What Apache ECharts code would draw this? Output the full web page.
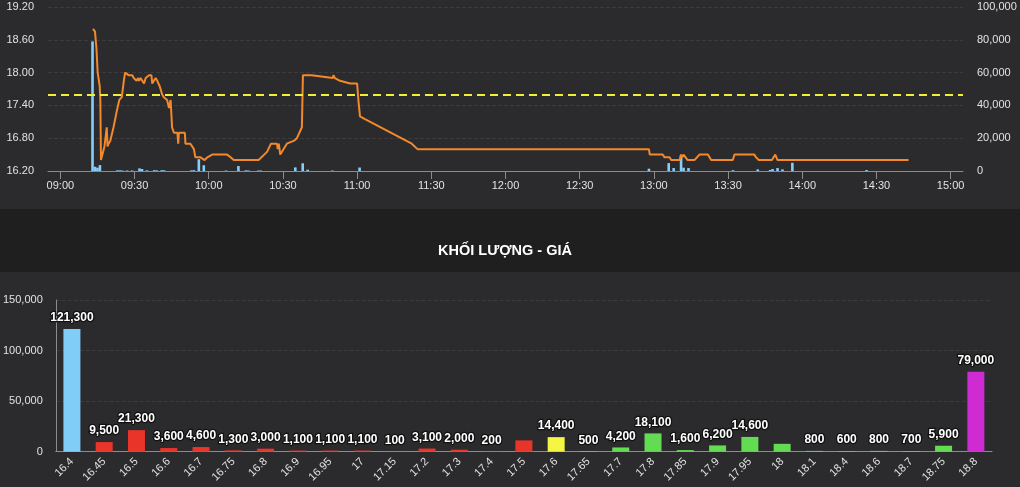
<!DOCTYPE html>
<html>
<head>
<meta charset="utf-8">
<script src="https://cdn.jsdelivr.net/npm/echarts@6/dist/echarts.min.js"></script>
<style>
html,body{margin:0;padding:0;background:#2b2b2d;}
#c{width:1020px;height:487px;}
</style>
</head>
<body>
<div id="c"></div>
<script>
// ---------- DATA ----------
const refPrice = 17.6;
const floorPrice = 16.4;
const ceilPrice = 18.8;

const timeTicks = ['09:00','09:30','10:00','10:30','11:00','11:30','12:00','12:30','13:00','13:30','14:00','14:30','15:00'];
const timeRange = ['08:55','15:05'];

const priceTimes = ['09:13:12','09:14:00','09:14:35','09:15:05','09:15:35','09:15:55','09:16:10','09:16:25','09:17:00','09:17:50',
 '09:18:45','09:19:05','09:19:30','09:20:10','09:20:50','09:21:30','09:22:50','09:23:50','09:24:50','09:25:40',
 '09:26:10','09:26:25','09:27:40','09:29:05','09:29:40','09:30:25','09:30:50','09:31:25','09:31:50','09:32:25',
 '09:33:05','09:33:50','09:34:30','09:35:05','09:35:50','09:36:50','09:37:10','09:37:50','09:38:30','09:39:10',
 '09:40:10','09:41:10','09:41:50','09:43:10','09:43:55','09:44:35','09:45:10','09:45:55','09:47:20','09:47:40',
 '09:47:55','09:50:20','09:50:35','09:52:35','09:54:00','09:54:35','09:55:35','09:56:40','09:57:20','09:58:20',
 '09:59:25','10:01:25','10:07:25','10:08:50','10:10:05','10:20:10','10:23:35','10:25:10','10:27:35','10:27:55',
 '10:28:20','10:28:55','10:31:35','10:34:20','10:35:40','10:36:20','10:37:40','10:38:05','10:41:40','10:50:10',
 '10:50:25','10:51:00','10:53:05','10:57:10','11:00:00','11:00:30','11:01:10','11:03:10','11:22:05','11:24:25',
 '12:58:00','12:58:20','13:03:35','13:04:20','13:06:20','13:07:00','13:10:25','13:11:00','13:11:30','13:12:00',
 '13:13:40','13:16:25','13:18:25','13:21:50','13:23:10','13:31:55','13:32:35','13:40:35','13:41:20','13:42:25',
 '13:47:45','13:49:05','13:50:00','14:43:00'];
const priceValues = [18.80,18.75,18.45,18.00,18.00,17.75,17.50,16.40,16.50,16.65,
 17.00,16.65,16.70,16.75,16.75,17.00,17.30,17.50,17.55,17.85,
 18.00,18.00,17.95,17.95,17.90,17.90,17.85,17.90,17.85,17.90,
 17.90,17.80,17.90,17.90,17.95,17.95,17.80,17.85,17.90,17.85,
 17.75,17.60,17.55,17.50,17.35,17.50,17.00,16.90,16.90,16.70,
 16.90,16.90,16.70,16.70,16.60,16.45,16.45,16.45,16.45,16.40,
 16.45,16.50,16.50,16.45,16.40,16.40,16.55,16.70,16.70,16.60,
 16.70,16.50,16.70,16.75,16.80,16.80,17.00,17.95,17.95,17.90,
 17.95,17.90,17.85,17.80,17.80,17.50,17.20,17.15,16.70,16.60,
 16.60,16.50,16.50,16.45,16.45,16.40,16.40,16.50,16.45,16.50,
 16.40,16.40,16.50,16.50,16.40,16.40,16.50,16.50,16.45,16.40,
 16.40,16.50,16.40,16.40];

const volumeTimes = ['09:13','09:14','09:15','09:16','09:23','09:24','09:25','09:27','09:29','09:32',
 '09:33','09:35','09:38','09:39','09:41','09:42','09:53','09:54','09:56','09:58',
 '10:07','10:12','10:15','10:16','10:20','10:21','10:35','10:38','10:40','10:50',
 '11:01','12:58','13:06','13:08','13:11','13:12','13:14','13:32','13:42','13:47',
 '13:48','13:50','13:52','13:56','14:26'];
const volumeValues = [79000,2600,2000,3600,400,400,300,300,300,1600,
 1200,400,500,400,500,400,400,500,7200,3500,
 300,3000,400,300,300,300,2200,4700,800,300,
 2100,1400,4800,1800,9500,2000,1800,500,1000,600,
 1200,1800,1000,5000,600];

const priceLevels = ['16.4','16.45','16.5','16.6','16.7','16.75','16.8','16.9','16.95','17','17.15','17.2','17.3','17.4','17.5',
 '17.6','17.65','17.7','17.8','17.85','17.9','17.95','18','18.1','18.4','18.6','18.7','18.75','18.8'];
const levelVolumes = [121300,9500,21300,3600,4600,1300,3000,1100,1100,1100,100,3100,2000,200,11200,
 14400,500,4200,18100,1600,6200,14600,7800,800,600,800,700,5900,79000];
const unlabeledLevels = ['17.5','18'];

// ---------- HELPERS ----------
// clock string "HH:MM[:SS]" -> minutes since midnight (axis unit)
const toMin = s => { const p = s.split(':').map(Number); return p[0] * 60 + p[1] + (p[2] || 0) / 60; };
const pad = n => (n < 10 ? '0' : '') + n;
const fmtClock = v => { const m = Math.round(v); return pad(Math.floor(m / 60)) + ':' + pad(m % 60); };
const fmtNum = v => Number(v).toLocaleString('en-US');
function levelColor(p) {
  const v = parseFloat(p);
  if (v === floorPrice) return '#80cdf8';
  if (v === ceilPrice) return '#cf2bd3';
  if (v === refPrice) return '#f5f543';
  return v < refPrice ? '#e9342a' : '#63dc53';
}

const FONT = '"Liberation Sans", Arial, sans-serif';
const LABEL = '#e2e2e2';
const AXIS = '#8c8c8c';
const SPLIT = '#3b3b3e';
const tickMins = timeTicks.map(toMin);

const chart = echarts.init(document.getElementById('c'));
chart.setOption({
  backgroundColor: '#2b2b2d',
  animation: false,
  textStyle: { fontFamily: FONT },
  graphic: [{
    type: 'rect', silent: true, z: 0,
    shape: { x: 0, y: 209, width: 1020, height: 63 },
    style: { fill: '#1f1f20' }
  }],
  title: {
    text: 'KHỐI LƯỢNG - GIÁ', left: 438, top: 243, padding: 0,
    textStyle: { color: '#ffffff', fontSize: 14.5, fontWeight: 'bold', fontFamily: FONT }
  },
  grid: [
    { left: 48, right: 57, top: 7, height: 164 },
    { left: 55, right: 28, top: 300, height: 151.7 }
  ],
  xAxis: [{
    type: 'value', gridIndex: 0,
    min: toMin(timeRange[0]), max: toMin(timeRange[1]),
    axisLine: { onZero: false, lineStyle: { color: AXIS, width: 1 } },
    axisTick: { show: true, length: 8, lineStyle: { color: AXIS }, customValues: tickMins },
    axisLabel: { color: LABEL, fontSize: 11, margin: 9, customValues: tickMins, formatter: fmtClock },
    splitLine: { show: false }
  }, {
    type: 'category', gridIndex: 1, data: priceLevels,
    axisLine: { lineStyle: { color: AXIS } },
    axisTick: { length: 8, lineStyle: { color: AXIS } },
    axisLabel: { color: LABEL, fontSize: 11, rotate: 45, interval: 0, margin: 8 }
  }],
  yAxis: [{
    type: 'value', gridIndex: 0, position: 'left',
    min: 16.2, max: 19.2, interval: 0.6,
    axisLine: { show: false }, axisTick: { show: false },
    axisLabel: { color: LABEL, fontSize: 11, margin: 14, formatter: v => v.toFixed(2) },
    splitLine: { lineStyle: { color: SPLIT, type: 'dashed' } }
  }, {
    type: 'value', gridIndex: 0, position: 'right',
    min: 0, max: 100000, interval: 20000,
    axisLine: { show: false }, axisTick: { show: false },
    axisLabel: { color: LABEL, fontSize: 11, margin: 14, formatter: fmtNum },
    splitLine: { show: false }
  }, {
    type: 'value', gridIndex: 1,
    min: 0, max: 150000, interval: 50000,
    axisLine: { show: true, lineStyle: { color: AXIS } }, axisTick: { show: false },
    axisLabel: { color: LABEL, fontSize: 11, margin: 13, formatter: fmtNum },
    splitLine: { lineStyle: { color: SPLIT, type: 'dashed' } }
  }],
  series: [{
    type: 'bar', xAxisIndex: 0, yAxisIndex: 1,
    data: volumeTimes.map((s, i) => [toMin(s), volumeValues[i]]),
    barWidth: 2.6,
    itemStyle: { color: '#87cefa' },
    z: 2
  }, {
    type: 'line', xAxisIndex: 0, yAxisIndex: 0,
    data: priceTimes.map((s, i) => [toMin(s), priceValues[i]]),
    showSymbol: false, symbol: 'none',
    lineStyle: { color: '#f3892b', width: 2 },
    z: 3,
    markLine: {
      silent: true, symbol: 'none', label: { show: false },
      lineStyle: { color: '#f0f03a', type: [8, 5], width: 2 },
      data: [{ yAxis: refPrice }]
    }
  }, {
    type: 'bar', xAxisIndex: 1, yAxisIndex: 2,
    barWidth: 17,
    data: levelVolumes.map((v, i) => ({
      value: v,
      itemStyle: { color: levelColor(priceLevels[i]) },
      label: { show: unlabeledLevels.indexOf(priceLevels[i]) < 0 }
    })),
    label: {
      show: true, position: 'top', distance: 5,
      color: '#ffffff', fontWeight: 'bold', fontSize: 12, fontFamily: FONT,
      textBorderColor: '#111111', textBorderWidth: 2.5,
      formatter: p => fmtNum(p.value)
    }
  }]
});
</script>
</body>
</html>
